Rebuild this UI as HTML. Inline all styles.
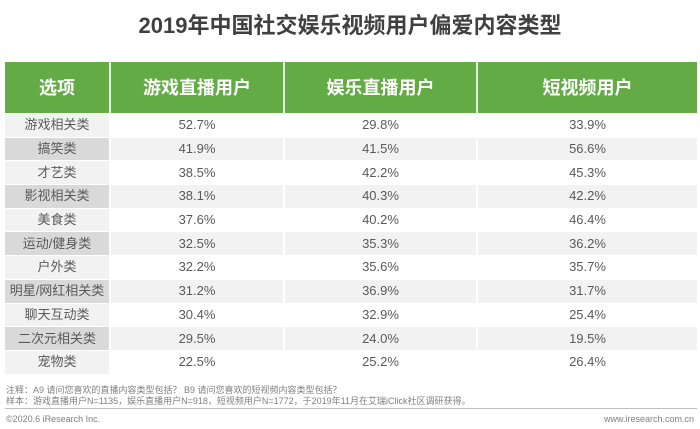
<!DOCTYPE html>
<html><head><meta charset="utf-8">
<style>
body{margin:0;width:700px;height:429px;background:#fff;font-family:"Liberation Sans","Noto Sans CJK SC",sans-serif;position:relative;overflow:hidden}
#title{position:absolute;top:8px;left:0;width:700px;text-align:center;font-size:22px;font-weight:bold;color:#404040}
table{position:absolute;left:5px;top:62px;width:692px;border-collapse:collapse;table-layout:fixed}
th{background:#62ab45;color:#fff;font-size:18px;height:51px;border-left:2px solid #e5f0df;font-weight:bold;padding:0;line-height:20px}
th:first-child{border-left:none}
td{height:22.7px;padding:0;line-height:16px;text-align:center;font-size:13px;color:#595959;border-left:2px solid #fff;border-top:1px solid #fff}
td:first-child{border-left:none}
tr.a td{background:#fff}tr.a td:first-child{background:#f2f2f2}
tr.b td{background:#f2f2f2}tr.b td:first-child{background:#d9d9d9}
.note{position:absolute;left:6px;font-size:9px;color:#7f7f7f}
</style></head><body>
<div id="title">2019年中国社交娱乐视频用户偏爱内容类型</div>
<table>
<colgroup><col style="width:105px"><col style="width:174px"><col style="width:193px"><col style="width:220px"></colgroup>
<thead><tr><th>选项</th><th>游戏直播用户</th><th>娱乐直播用户</th><th>短视频用户</th></tr></thead>
<tbody id="tb"></tbody></table>
<div class="note" style="top:383px">注释：A9 请问您喜欢的直播内容类型包括？ B9 请问您喜欢的短视频内容类型包括？</div>
<div class="note" style="top:394px">样本：游戏直播用户N=1135，娱乐直播用户N=918，短视频用户N=1772，于2019年11月在艾瑞iClick社区调研获得。</div>
<div style="position:absolute;left:5px;top:408px;width:692px;height:1px;background:#bfbfbf"></div>
<div class="note" style="top:414px">©2020.6 iResearch Inc.</div>
<div class="note" style="top:414px;left:auto;right:6px">www.iresearch.com.cn</div>
<script>
const categories=["游戏相关类","搞笑类","才艺类","影视相关类","美食类","运动/健身类","户外类","明星/网红相关类","聊天互动类","二次元相关类","宠物类"];
const gameLive=[52.7,41.9,38.5,38.1,37.6,32.5,32.2,31.2,30.4,29.5,22.5];
const entLive=[29.8,41.5,42.2,40.3,40.2,35.3,35.6,36.9,32.9,24.0,25.2];
const shortVideo=[33.9,56.6,45.3,42.2,46.4,36.2,35.7,31.7,25.4,19.5,26.4];
const tb=document.getElementById('tb');
categories.forEach((c,i)=>{
 const tr=document.createElement('tr');
 tr.className=i%2?'b':'a';
 
 
 [c,gameLive[i].toFixed(1)+'%',entLive[i].toFixed(1)+'%',shortVideo[i].toFixed(1)+'%'].forEach((v,j)=>{
  const td=document.createElement('td');td.textContent=v;
  
  
  tr.appendChild(td);
 });
 tb.appendChild(tr);
});
</script>
</body></html>
